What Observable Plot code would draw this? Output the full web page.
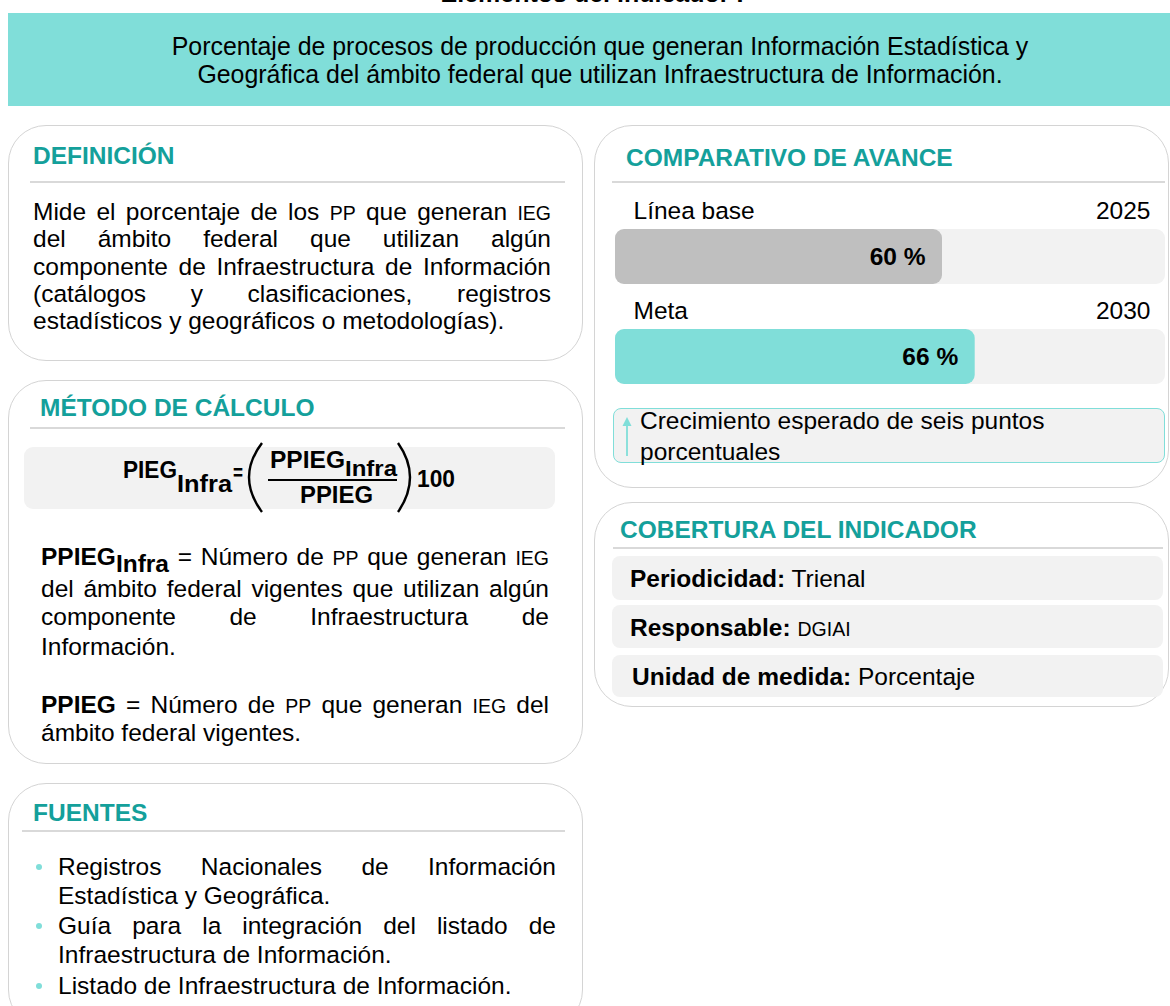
<!DOCTYPE html>
<html><head><meta charset="utf-8">
<script src="https://cdn.jsdelivr.net/npm/d3@7"></script>
<script src="https://cdn.jsdelivr.net/npm/@observablehq/plot@0.6"></script>
<style>
html,body{margin:0;padding:0}
body{width:1170px;height:1006px;overflow:hidden;background:#fff;font-family:"Liberation Sans",Arial,sans-serif;color:#000;position:relative}
.panel{position:absolute;border:1.5px solid #d4d4d4;border-radius:38px;background:#fff;box-sizing:border-box}
.sep{position:absolute;height:1.5px;background:#d9d9d9}
.box{position:absolute;background:#f2f2f2;border-radius:9px}
.t{position:absolute;white-space:nowrap;font-size:24.5px;line-height:24.5px}
.j{text-align:justify;text-align-last:justify;white-space:normal}
.b{font-weight:bold}
.h{font-weight:bold;color:#14a09b}
.sc{font-size:19.5px}
.sub{font-weight:bold;position:relative;top:7px}
.f{position:absolute;white-space:nowrap;font-weight:bold;transform-origin:0 0;z-index:6}
#chart{position:absolute;left:615px;top:195px}
</style></head><body>
<script>
// ---- chart data ----
const categories = ["Línea base", "Meta"];
const years = ["2025", "2030"];
const values = [60, 66];
const valueLabels = ["60 %", "66 %"];
const barColors = ["#BFBFBF", "#80DED9"];

// ---- text content ----
const pageTitle = "Elementos del indicador I";
const bannerLines = [
  "Porcentaje de procesos de producción que generan Información Estadística y",
  "Geográfica del ámbito federal que utilizan Infraestructura de Información."
];
const definitionLines = [
  'Mide el porcentaje de los <span class="sc">PP</span> que generan <span class="sc">IEG</span>',
  "del ámbito federal que utilizan algún",
  "componente de Infraestructura de Información",
  "(catálogos y clasificaciones, registros",
  "estadísticos y geográficos o metodologías)."
];
const methodLines = [
  '<span class="b">PPIEG</span><span class="sub">Infra</span> = Número de <span class="sc">PP</span> que generan <span class="sc">IEG</span>',
  "del ámbito federal vigentes que utilizan algún",
  "componente de Infraestructura de",
  "Información.",
  '<span class="b">PPIEG</span> = Número de <span class="sc">PP</span> que generan <span class="sc">IEG</span> del',
  "ámbito federal vigentes."
];
const sourceLines = [
  "Registros Nacionales de Información",
  "Estadística y Geográfica.",
  "Guía para la integración del listado de",
  "Infraestructura de Información.",
  "Listado de Infraestructura de Información."
];
const noteLines = ["Crecimiento esperado de seis puntos", "porcentuales"];
const coverage = [
  ["Periodicidad:", "Trienal", false],
  ["Responsable:", "DGIAI", true],
  ["Unidad de medida:", "Porcentaje", false]
];

const root = document.body;
function el(tag, cls, style, html) {
  const e = document.createElement(tag);
  if (cls) e.className = cls;
  Object.assign(e.style, style || {});
  if (html != null) e.innerHTML = html;
  root.appendChild(e);
  return e;
}
// place text by baseline (font 24.5px, line-height 24.5px -> baseline at top+20.4)
function txt(x, baseline, html, opts = {}) {
  const st = {left: x + "px", top: (baseline - 20.4) + "px"};
  if (opts.width) st.width = opts.width + "px";
  if (opts.fontSize) st.fontSize = opts.fontSize + "px";
  if (opts.align) st.textAlign = opts.align;
  return el("div", "t" + (opts.cls ? " " + opts.cls : ""), st, html);
}

// title (cut at top)
el("div", "t b", {left: "7px", width: "1170px", textAlign: "center", top: "-19px", fontSize: "25px", lineHeight: "25px"}, pageTitle);
// banner
el("div", null, {position: "absolute", left: "8px", top: "13px", width: "1180px", height: "93px", background: "#80DED9"});
txt(10, 54, bannerLines[0], {width: 1180, align: "center", fontSize: 24.9});
txt(10, 82, bannerLines[1], {width: 1180, align: "center", fontSize: 24.9});

// panels
el("div", "panel", {left: "8px", top: "125px", width: "575px", height: "236px"});
el("div", "panel", {left: "8px", top: "380px", width: "575px", height: "384px"});
el("div", "panel", {left: "8px", top: "783px", width: "575px", height: "245px"});
el("div", "panel", {left: "594px", top: "125px", width: "575px", height: "363px"});
el("div", "panel", {left: "594px", top: "502px", width: "575px", height: "205px"});

// DEFINICIÓN
txt(33, 164, "DEFINICIÓN", {cls: "h"});
el("div", "sep", {left: "30px", top: "181px", width: "535px"});
const defBase = [220, 247, 275, 302, 329];
definitionLines.forEach((l, i) => txt(33, defBase[i], l, {width: 518, cls: i < definitionLines.length - 1 ? "j" : ""}));

// MÉTODO DE CÁLCULO
txt(40, 416, "MÉTODO DE CÁLCULO", {cls: "h"});
el("div", "sep", {left: "30px", top: "427px", width: "535px"});
el("div", "box", {left: "24px", top: "447px", width: "531px", height: "62px"});

// formula (HTML text, fitted horizontally to the reference)
function ftxt(x, baseline, s, len, fs) {
  fs = fs || 22.5;
  const e = el("div", "f", {left: x + "px", top: (baseline - 0.8305 * fs) + "px", fontSize: fs + "px", lineHeight: fs + "px"}, s);
  const w = e.getBoundingClientRect().width || len;
  e.style.transform = `scaleX(${len / w})`;
  return e;
}
ftxt(123, 478, "PIEG", 54, 23);
ftxt(177, 492, "Infra", 55, 24.5);
ftxt(233, 481, "=", 10, 22.5);
ftxt(270, 468, "PPIEG", 75, 24);
ftxt(345, 477, "Infra", 52, 22.5);
ftxt(300, 503, "PPIEG", 73, 24);
ftxt(417, 487, "100", 38, 23);

const mBase = [565, 597, 625, 655, 713, 741];
methodLines.forEach((l, i) => {
  const justify = i < 3 || i === 4;
  txt(41, mBase[i], l, {width: 508, cls: justify ? "j" : ""});
});

// FUENTES
txt(33, 821, "FUENTES", {cls: "h"});
el("div", "sep", {left: "22px", top: "830px", width: "543px"});
const sBase = [875, 904, 934, 963, 994];
const bullets = [0, 2, 4];
sourceLines.forEach((l, i) => {
  const justify = i === 0 || i === 2;
  txt(58, sBase[i], l, {width: 498, cls: justify ? "j" : ""});
  if (bullets.includes(i)) {
    el("div", null, {position: "absolute", left: "36px", top: (sBase[i] - 11) + "px", width: "6px", height: "6px", borderRadius: "3px", background: "#80DED9"});
  }
});

// COMPARATIVO DE AVANCE
txt(626, 166, "COMPARATIVO DE AVANCE", {cls: "h"});
el("div", "sep", {left: "612px", top: "181px", width: "553px"});

// note box
el("div", null, {position: "absolute", left: "613px", top: "408px", width: "552px", height: "55px", background: "#f2f2f2", border: "1px solid #80DED9", borderRadius: "8px", boxSizing: "border-box"});
txt(640, 429, noteLines[0]);
txt(640, 460, noteLines[1]);

// COBERTURA DEL INDICADOR
txt(620, 538, "COBERTURA DEL INDICADOR", {cls: "h"});
el("div", "sep", {left: "613px", top: "547px", width: "550px"});
const rowTops = [556, 605, 655], rowH = [44, 43, 42], rowBase = [587, 636, 685], rowX = [630, 630, 632];
coverage.forEach((r, i) => {
  el("div", "box", {left: "612px", top: rowTops[i] + "px", width: "551px", height: rowH[i] + "px", borderRadius: "8px"});
  txt(rowX[i], rowBase[i], '<span class="b">' + r[0] + '</span> ' + (r[2] ? '<span class="sc">' + r[1] + '</span>' : r[1]));
});

// ---- overlay svg: parentheses, fraction bar, arrow ----
const svgNS = "http://www.w3.org/2000/svg";
const fsvg = document.createElementNS(svgNS, "svg");
fsvg.setAttribute("width", "1170"); fsvg.setAttribute("height", "1006");
Object.assign(fsvg.style, {position: "absolute", left: "0", top: "0", pointerEvents: "none", zIndex: "5"});
root.appendChild(fsvg);
function spath(d, w, color) {
  const p = document.createElementNS(svgNS, "path");
  p.setAttribute("d", d); p.setAttribute("fill", "none"); p.setAttribute("stroke", color || "#000");
  p.setAttribute("stroke-width", w || 2);
  fsvg.appendChild(p);
  return p;
}
spath("M262,443 Q236,477 262,512", 2.4);
spath("M268,480 L397,480", 2);
spath("M398,443 Q422,477 398,512", 2.4);
// arrow in note box
spath("M627,456 L627,425", 1.8, "#80DED9");
const arrow = document.createElementNS(svgNS, "path");
arrow.setAttribute("d", "M627,417 L622.5,426 L631.5,426 Z");
arrow.setAttribute("fill", "#80DED9");
fsvg.appendChild(arrow);

// ---- the bar chart (Observable Plot) ----
const data = categories.map((c, i) => ({cat: c, year: years[i], value: values[i], label: valueLabels[i], color: barColors[i]}));
const chart = Plot.plot({
  width: 550,
  height: 200,
  marginTop: 34, marginBottom: 11, marginLeft: 0, marginRight: 5,
  x: {domain: [0, 100], axis: null},
  y: {domain: categories, axis: null, paddingInner: 0.45, paddingOuter: 0},
  color: {type: "identity"},
  style: {fontFamily: "Liberation Sans, Arial, sans-serif", background: "transparent", overflow: "visible"},
  marks: [
    Plot.barX(data, {x1: 0, x2: 100, y: "cat", fill: "#F2F2F2", rx: 9, insetRight: -5}),
    Plot.barX(data, {x1: 0, x2: "value", y: "cat", fill: "color", rx: 9}),
    Plot.text(data, {x: "value", y: "cat", text: "label", textAnchor: "end", dx: -17, fontSize: 24.5, fontWeight: "bold", fill: "#000"}),
    Plot.text(data, {x: 0, y: "cat", text: "cat", textAnchor: "start", dx: 18, dy: -46, fontSize: 24.5, fill: "#000"}),
    Plot.text(data, {x: 100, y: "cat", text: "year", textAnchor: "end", dx: -10, dy: -46, fontSize: 24.5, fill: "#000"})
  ]
});
chart.id = "chart";
root.appendChild(chart);
</script>
</body></html>
